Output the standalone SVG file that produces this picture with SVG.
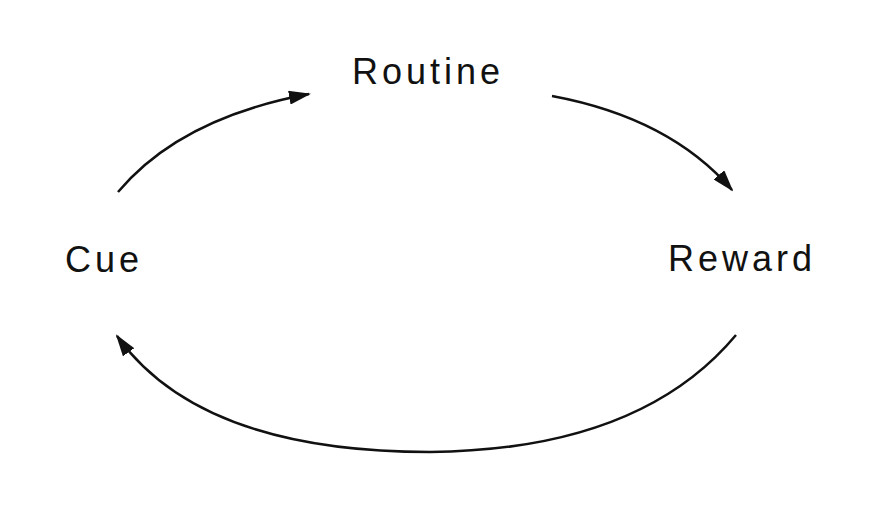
<svg xmlns="http://www.w3.org/2000/svg" width="888" height="516" viewBox="0 0 888 516">
<defs><marker id="a" markerWidth="22" markerHeight="14" refX="20" refY="7" orient="auto" markerUnits="userSpaceOnUse"><path d="M0,0 L22,7 L0,14 Z" fill="#111"/></marker>
<style>.t{font-family:"Liberation Sans",Arial,sans-serif;font-size:36px;letter-spacing:4px;fill:#111}.c{fill:none;stroke:#111;stroke-width:2.5}</style></defs>
<rect width="888" height="516" fill="#fff"/>
<g id="routine"><text class="t" x="352" y="84">Routine</text></g>
<g id="cue"><text class="t" x="65" y="272">Cue</text></g>
<g id="reward"><text class="t" x="668" y="271">Reward</text></g>
<g id="connectors">
<path class="c" d="M118,192 Q180,118 309,94" marker-end="url(#a)"/>
<path class="c" d="M552,96 Q670,118 732,190" marker-end="url(#a)"/>
<path class="c" d="M736,335 Q640,450 430,452 Q200,452 117,336" marker-end="url(#a)"/>
</g>
</svg>
